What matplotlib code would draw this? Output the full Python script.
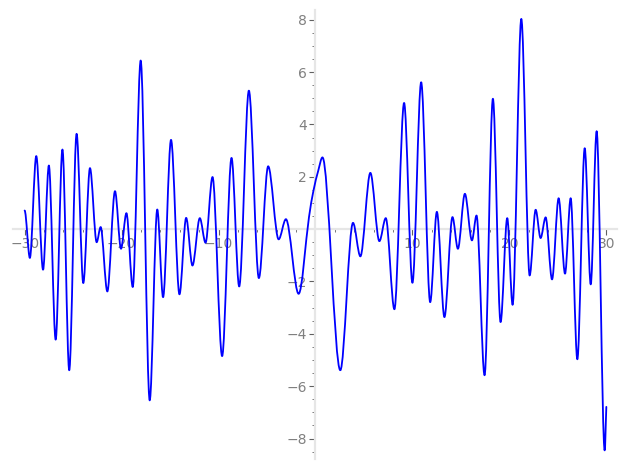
import matplotlib
matplotlib.use("Agg")
import matplotlib.pyplot as plt
from matplotlib.path import Path
from matplotlib.patches import PathPatch
from matplotlib.ticker import MultipleLocator, FixedLocator

# Points of the curve (mostly turning points), (x, y)
xs = [-30.0, -29.46, -28.8, -28.1, -27.5, -26.8, -26.1, -25.4, -24.64, -23.95,
      -23.26, -22.57, -22.16, -21.47, -20.68, -20.06, -19.5, -18.85, -18.03, -17.1,
      -16.32, -15.72, -14.9, -14.03, -13.34, -12.69, -11.93, -11.34, -10.62, -9.63,
      -8.66, -7.87, -6.87, -5.84, -4.88, -3.8, -3.05, -1.74, -0.67, -0.22,
      0.29, 0.72, 2.56,
      3.87, 4.63, 5.66, 6.59, 7.25, 8.14, 9.14, 10.0, 10.9, 11.83,
      12.52, 13.3, 14.13, 14.69, 15.41, 16.14, 16.61, 17.44, 18.3, 19.09,
      19.78, 20.33, 21.23, 22.09, 22.71, 23.22, 23.74, 24.4, 25.08, 25.74,
      26.32, 27.01, 27.77, 28.39, 29.0, 29.83, 30.0]
ys = [0.71, -1.1, 2.79, -1.55, 2.43, -4.22, 3.04, -5.39, 3.64, -2.06,
      2.33, -0.5, 0.08, -2.38, 1.45, -0.75, 0.61, -2.21, 6.44, -6.54,
      0.75, -2.6, 3.41, -2.49, 0.43, -1.39, 0.42, -0.52, 1.99, -4.85,
      2.72, -2.19, 5.29, -1.87, 2.4, -0.39, 0.38, -2.47, 0.46, 1.45,
      2.24, 2.74, -5.39,
      0.24, -1.04, 2.15, -0.46, 0.42, -3.06, 4.82, -2.05, 5.61, -2.79,
      0.66, -3.36, 0.46, -0.75, 1.35, -0.43, 0.52, -5.58, 4.98, -3.55,
      0.42, -2.89, 8.03, -1.77, 0.74, -0.34, 0.45, -1.92, 1.18, -1.7,
      1.18, -4.97, 3.09, -2.11, 3.74, -8.45, -6.79]

xticks_major = [-30, -20, -10, 10, 20, 30]
yticks_major = [-8, -6, -4, -2, 2, 4, 6, 8]

fig = plt.figure(figsize=(6.27, 4.70), dpi=100)
ax = fig.add_axes([13 / 627, 11 / 470, (617 - 13) / 627, (460 - 11) / 470])

# Tangent at each read point: flat at turning points, secant elsewhere
n = len(xs)
slopes = []
for i in range(n):
    if i == 0:
        slopes.append(0.0)
    elif i == n - 1:
        slopes.append((ys[i] - ys[i - 1]) / (xs[i] - xs[i - 1]))
    else:
        a = ys[i] - ys[i - 1]
        b = ys[i + 1] - ys[i]
        if a * b <= 0:
            slopes.append(0.0)
        else:
            slopes.append((ys[i + 1] - ys[i - 1]) / (xs[i + 1] - xs[i - 1]))

# Smooth curve drawn by matplotlib as cubic Bezier segments
verts = [(xs[0], ys[0])]
codes = [Path.MOVETO]
for i in range(n - 1):
    x0, y0, x1, y1 = xs[i], ys[i], xs[i + 1], ys[i + 1]
    d = (x1 - x0) / 3.0
    verts += [(x0 + d, y0 + slopes[i] * d), (x1 - d, y1 - slopes[i + 1] * d), (x1, y1)]
    codes += [Path.CURVE4] * 3
ax.add_patch(PathPatch(Path(verts, codes), fill=False, edgecolor="blue",
                       linewidth=1.3, capstyle="round", joinstyle="round",
                       zorder=3))

ax.set_xlim(-31.2, 31.1)
ax.set_ylim(-8.78, 8.37)

for s in ["top", "right"]:
    ax.spines[s].set_visible(False)
ax.spines["left"].set_position(("data", 0))
ax.spines["bottom"].set_position(("data", 0))
for s in ["left", "bottom"]:
    ax.spines[s].set_color("#e6e6e6")
    ax.spines[s].set_linewidth(1.6)

ax.xaxis.set_major_locator(FixedLocator(xticks_major))
ax.yaxis.set_major_locator(FixedLocator(yticks_major))
ax.xaxis.set_minor_locator(MultipleLocator(2))
ax.yaxis.set_minor_locator(MultipleLocator(0.5))
ax.set_xticklabels([f"{v}".replace("-", "\u2212") for v in xticks_major])
ax.set_yticklabels([f"{v}".replace("-", "\u2212") for v in yticks_major])
ax.tick_params(which="major", length=4, width=0.8, color="#606060",
               labelcolor="#808080", labelsize=10, direction="out", pad=2)
ax.tick_params(which="minor", length=2.5, width=0.6, color="#606060", direction="out")

fig.savefig("out.png", dpi=100)
